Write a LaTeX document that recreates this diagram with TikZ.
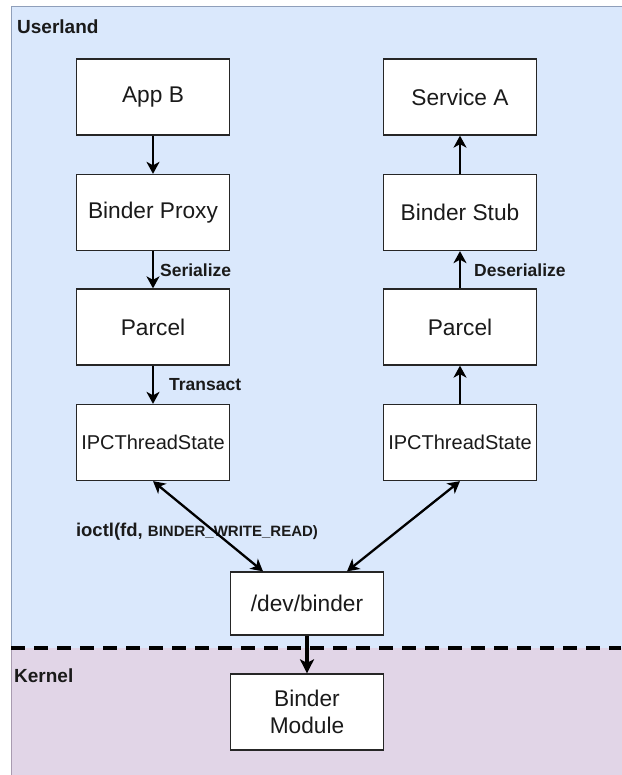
\documentclass[tikz,border=0pt]{standalone}
\usepackage{fontspec}
\setmainfont{Liberation Sans}
\usetikzlibrary{arrows.meta,calc}
\definecolor{userbg}{HTML}{DAE8FC}
\definecolor{userbd}{HTML}{8F9FBA}
\definecolor{kernbg}{HTML}{E1D5E7}
\definecolor{kernbd}{HTML}{A89BB0}
\definecolor{txt}{HTML}{1A1A1A}
\tikzset{
  box/.style={draw=black!85, fill=white, line width=1.3pt, minimum width=153pt, minimum height=76pt,
    inner sep=0pt, text=txt, font=\fontsize{22.7}{27}\selectfont, align=center},
  conn/.style={line width=2.3pt, -{Stealth[length=12pt,width=13pt,inset=3.5pt]}, black},
  biconn/.style={line width=2.3pt, {Stealth[length=12pt,width=13pt,inset=3.5pt]}-{Stealth[length=12pt,width=13pt,inset=3.5pt]}, black},
  lbl/.style={font=\bfseries\fontsize{17.5}{20}\selectfont, text=txt, inner sep=0pt},
  region/.style={font=\bfseries\fontsize{19}{22}\selectfont, text=txt, inner sep=0pt, anchor=west}
}
\begin{document}
\begin{tikzpicture}[x=1pt,y=-1pt]
\useasboundingbox (0,0) rectangle (621,775);
% regions
\fill[userbg] (11,7) rectangle (622,648);
\draw[userbd, line width=1pt] (622,7) -- (11,7) -- (11,648);
\fill[kernbg] (11,648) rectangle (622,776);
\draw[kernbd, line width=1pt] (11,648) -- (11,776);
\draw[black, line width=3.3pt, dash pattern=on 14pt off 9pt] (11,648) -- (621,648);
\node[region] (userland) at (17,27) {Userland};
\node[region] (kernel) at (14,676) {Kernel};
% left column
\node[box] (appb) at (153,97) {App B};
\node[box] (proxy) at (153,212.5) {Binder Proxy};
\node[box] (parcell) at (153,327) {Parcel};
\node[box, font=\fontsize{20}{24}\selectfont] (ipcl) at (153,442.5) {IPCThreadState};
% right column
\node[box] (service) at (460,97) {Service A};
\node[box] (stub) at (460,212.5) {Binder Stub};
\node[box] (parcelr) at (460,327) {Parcel};
\node[box, font=\fontsize{20}{24}\selectfont] (ipcr) at (460,442.5) {IPCThreadState};
% bottom
\node[box, minimum height=63pt] (dev) at (307,603.5) {/dev/binder};
\node[box] (module) at (307,712) {Binder\\Module};
% connectors
\draw[conn] (appb) -- (proxy);
\draw[conn] (proxy) -- node[lbl, anchor=west, xshift=6pt] (ser) {Serialize} (parcell);
\draw[conn] (parcell) -- node[lbl, anchor=west, xshift=15pt] (tra) {Transact} (ipcl);
\draw[conn] (ipcr) -- (parcelr);
\draw[conn] (parcelr) -- node[lbl, anchor=west, xshift=13pt] (des) {Deserialize} (stub);
\draw[conn] (stub) -- (service);
\node[inner sep=0pt, text=txt, font=\bfseries] (ioctl) at (197,532)
  {{\fontsize{18.5}{22}\selectfont ioctl(fd, }{\fontsize{15}{18}\selectfont BINDER\_WRITE\_READ)}};
\draw[biconn] (ipcl.south) -- ($(dev.north)+(-44,0)$);
\draw[biconn] (ipcr.south) -- ($(dev.north)+(40,0)$);
\draw[line width=3.5pt, -{Stealth[length=14pt,width=14pt,inset=3.5pt]}] (dev) -- (module);
\end{tikzpicture}
\end{document}
